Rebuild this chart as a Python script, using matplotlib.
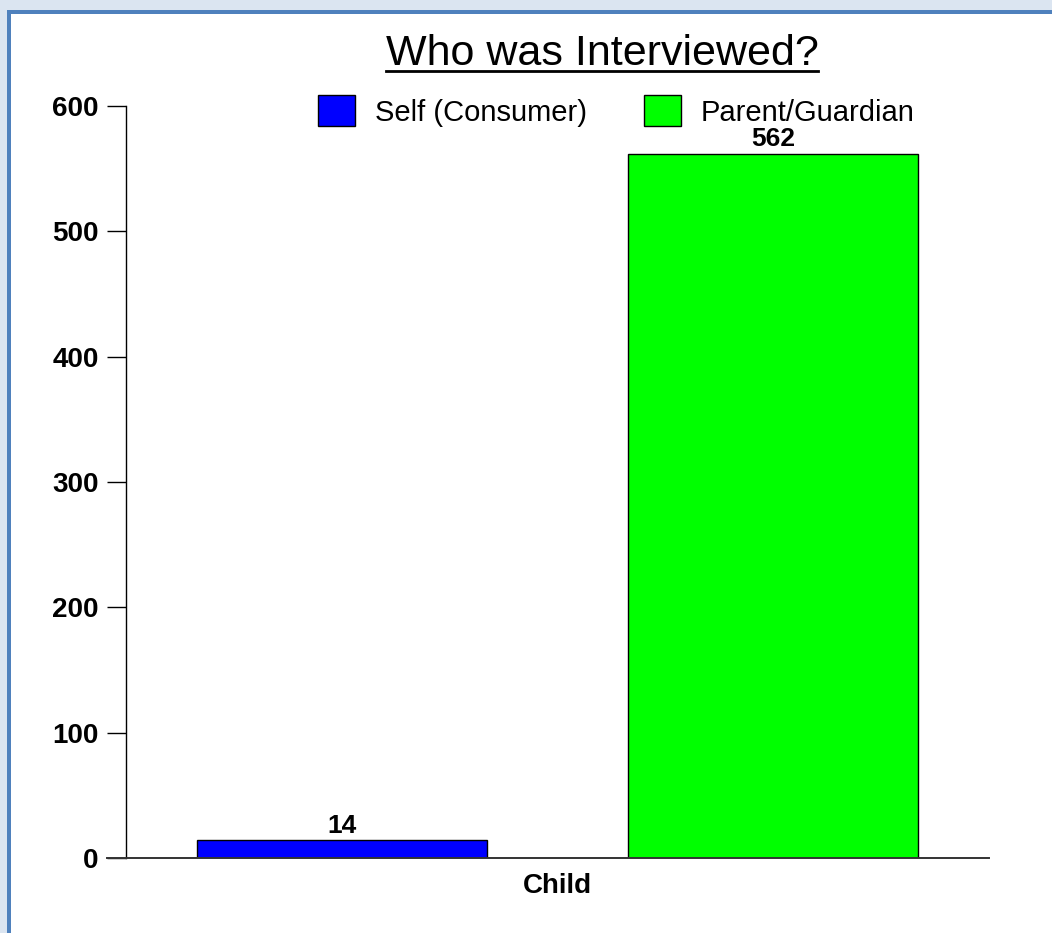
import matplotlib
matplotlib.use("Agg")
import matplotlib.pyplot as plt
from matplotlib.patches import Rectangle
from matplotlib.lines import Line2D

# =============================
# DATA
# =============================
TITLE = "Who was Interviewed?"
GROUP = "Child"
SERIES = ["Self (Consumer)", "Parent/Guardian"]
VALUES = [14, 562]
COLORS = ["#0000ff", "#00ff00"]
Y_TICKS = [0, 100, 200, 300, 400, 500, 600]

# =============================
# FIGURE / FRAME
# =============================
W, H = 1052, 933
plt.rcParams["font.family"] = ["Liberation Sans", "DejaVu Sans"]

fig = plt.figure(figsize=(W / 100, H / 100), dpi=100)
fig.patch.set_facecolor("#dbe5f1")


def px(x, y):
    # pixel coords (top-left origin) -> figure fraction
    return x / W, 1 - y / H


# blue frame + white page
fig.add_artist(Rectangle(px(7, H + 20), (W + 20) / W, (H + 10) / H,
                         transform=fig.transFigure, facecolor="#4f81bd",
                         edgecolor="none", zorder=0))
fig.add_artist(Rectangle(px(11, H + 20), (W + 20) / W, (H + 6) / H,
                         transform=fig.transFigure, facecolor="white",
                         edgecolor="none", zorder=0))

# axes: left spine at x=126, right end 989, top (600) y=106, bottom (0) y=858
left, right, top, bottom = 126, 989, 106, 858
ax = fig.add_axes([left / W, 1 - bottom / H, (right - left) / W, (bottom - top) / H])
ax.set_facecolor("none")

# =============================
# BARS
# =============================
offsets = [-0.5, 0.5]
bar_w = 0.673
for off, val, col, name in zip(offsets, VALUES, COLORS, SERIES):
    bars = ax.bar(off, val, width=bar_w, color=col, edgecolor="black",
                  linewidth=1, label=name, zorder=3)
    ax.bar_label(bars, padding=2, fontsize=19, fontweight="bold")

ax.set_xlim(-1, 1)
ax.set_ylim(0, 600)
ax.set_yticks(Y_TICKS)
ax.set_xticks([0])
ax.set_xticklabels([GROUP], fontsize=20, fontweight="bold")
ax.tick_params(axis="x", length=0, pad=11)
ax.tick_params(axis="y", direction="out", length=13.7, width=1,
               labelsize=20, pad=6)
for lab in ax.get_yticklabels():
    lab.set_fontweight("bold")

for s in ["top", "right", "bottom"]:
    ax.spines[s].set_visible(False)
ax.spines["left"].set_linewidth(1)

# x axis line extends left past the y spine by the tick length
ax.add_line(Line2D([-(19 / (right - left)), 1], [0, 0], transform=ax.transAxes,
                   color="#333333", linewidth=1.4, clip_on=False, zorder=4))

# =============================
# LEGEND
# =============================
ax.legend(loc="center", bbox_to_anchor=px(616, 111), bbox_transform=fig.transFigure,
          ncol=2, frameon=False, fontsize=21, handlelength=1.27, handleheight=1.26,
          handletextpad=0.68, columnspacing=1.95, borderpad=0, borderaxespad=0)

# =============================
# TITLE (underlined)
# =============================
t = fig.text(*px(602, 65), TITLE, fontsize=31, ha="center", va="baseline")
fig.canvas.draw()
bb = t.get_window_extent().transformed(fig.transFigure.inverted())
uy = 1 - 71 / H
fig.add_artist(Line2D([bb.x0, bb.x1], [uy, uy], transform=fig.transFigure,
                      color="black", linewidth=2))

fig.savefig("out.png", dpi=100, facecolor=fig.get_facecolor())
